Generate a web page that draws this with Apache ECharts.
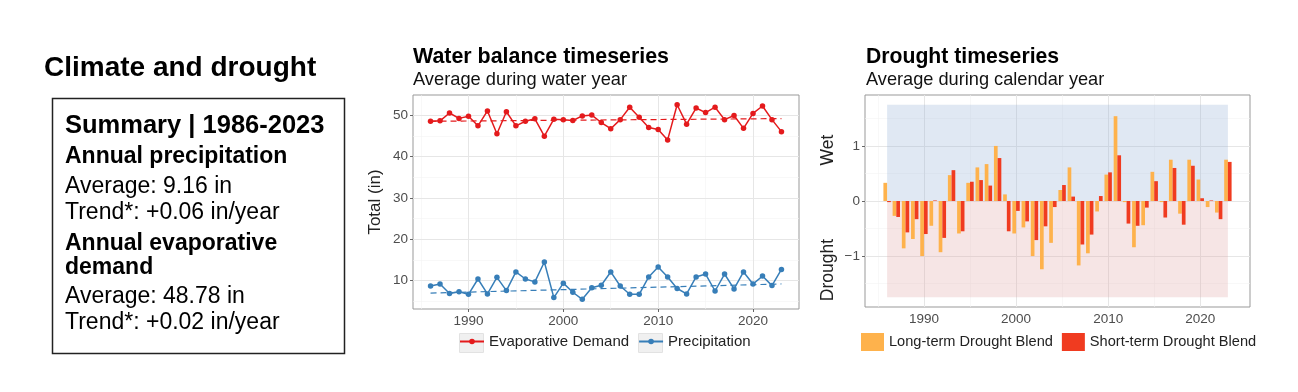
<!DOCTYPE html>
<html>
<head>
<meta charset="utf-8">
<script src="https://cdn.jsdelivr.net/npm/echarts@6/dist/echarts.min.js"></script>
<style>
html,body{margin:0;padding:0;background:#fff;}
#chart{width:1298px;height:392px;}
</style>
</head>
<body>
<div id="chart"></div>
<script>
// ---------- DATA ----------
const years = [1986,1987,1988,1989,1990,1991,1992,1993,1994,1995,1996,1997,1998,1999,2000,2001,2002,2003,2004,2005,2006,2007,2008,2009,2010,2011,2012,2013,2014,2015,2016,2017,2018,2019,2020,2021,2022,2023];
const evapDemand = [48.5,48.6,50.5,49.2,49.7,47.4,51.0,45.5,50.8,47.4,48.5,49.1,44.9,49.0,48.9,48.7,49.8,50.0,48.2,46.7,48.9,51.9,49.5,47.0,46.5,44.0,52.5,47.8,51.7,50.6,51.9,48.9,49.9,46.8,50.4,52.2,48.9,46.0];
const precipitation = [8.7,9.2,6.9,7.3,6.7,10.4,6.8,10.8,7.6,12.1,10.4,9.7,14.5,5.9,9.4,7.2,5.5,8.3,8.9,12.1,8.7,6.7,6.7,10.9,13.3,10.9,8.1,6.8,10.9,11.6,7.5,11.6,8.0,12.1,9.2,11.1,8.8,12.7];
const evapTrend = [[1986,48.5],[2023,49.15]];
const precipTrend = [[1986,7.0],[2023,9.2]];
const longTermBlend = [0.33,-0.27,-0.86,-0.69,-1.0,-0.45,-0.93,0.47,-0.59,0.33,0.61,0.67,1.0,0.12,-0.59,-0.48,-1.0,-1.24,-0.76,0.2,0.61,-1.17,-0.95,-0.19,0.48,1.54,-0.02,-0.84,-0.44,0.53,-0.02,0.75,-0.23,0.75,0.39,-0.11,-0.21,0.75];
const shortTermBlend = [-0.02,-0.29,-0.57,-0.33,-0.6,0.01,-0.67,0.56,-0.55,0.35,0.38,0.28,0.78,-0.55,-0.18,-0.37,-0.71,-0.46,-0.11,0.29,0.08,-0.79,-0.61,0.09,0.52,0.83,-0.41,-0.45,-0.12,0.36,-0.30,0.60,-0.43,0.64,0.05,0.01,-0.33,0.71];
const wetBand = {x0:1986, x1:2023, y0:0, y1:1.75};
const droughtBand = {x0:1986, x1:2023, y0:-1.75, y1:0};
const yearTicks = [1990,2000,2010,2020];
const yearMinor = [1985,1995,2005,2015];
const totalTicks = [10,20,30,40,50];
const totalMinor = [5,15,25,35,45];
const droughtTicks = [-1,0,1];
const droughtMinor = [-1.5,-0.5,0.5,1.5];

// ---------- CHART ----------
const FONT = '"Liberation Sans", Arial, sans-serif';
const chart = echarts.init(document.getElementById('chart'), null, {renderer:'canvas'});
const pair = (xs, ys) => xs.map((x,i)=>[x, ys[i]]);
const minus = v => String(v).replace('-', '\u2212');
const plain = v => String(v);

function gridSeries(xi, yi, xMaj, xMin, yMaj, yMin){
  const maj = {color:'#e6e6e6', width:1, type:'solid'};
  const mnr = {color:'#f3f3f3', width:0.6, type:'solid'};
  const d = [];
  xMin.forEach(v=>d.push({xAxis:v, lineStyle:mnr}));
  yMin.forEach(v=>d.push({yAxis:v, lineStyle:mnr}));
  xMaj.forEach(v=>d.push({xAxis:v, lineStyle:maj}));
  yMaj.forEach(v=>d.push({yAxis:v, lineStyle:maj}));
  return {type:'line', xAxisIndex:xi, yAxisIndex:yi, data:[], z:1, silent:true,
    markLine:{silent:true, z:1, symbol:['none','none'], label:{show:false}, animation:false, data:d}};
}

const axisLbl = {color:'#4d4d4d', fontSize:13.5, fontFamily:FONT};
const tick = {show:true, length:3, lineStyle:{color:'#666'}};
function txt(x, y, s, font, fill){
  return {type:'text', x:x, y:y, style:{text:s, font:font+' '+FONT, fill:fill||'#000', verticalAlign:'middle', align:'left'}};
}

const option = {
  animation:false,
  textStyle:{fontFamily:FONT},
  grid:[
    {left:413, top:95, width:386, height:214, show:true, borderColor:'#999', borderWidth:1, backgroundColor:'transparent'},
    {left:865, top:95, width:385, height:212, show:true, borderColor:'#999', borderWidth:1, backgroundColor:'transparent'}
  ],
  xAxis:[
    {type:'value', gridIndex:0, min:1984.15, max:2024.85, axisLine:{show:false}, splitLine:{show:false},
     axisTick:Object.assign({customValues:yearTicks}, tick), axisLabel:Object.assign({customValues:yearTicks, margin:5, formatter:plain}, axisLbl)},
    {type:'value', gridIndex:1, min:1983.6, max:2025.4, axisLine:{show:false}, splitLine:{show:false},
     axisTick:Object.assign({customValues:yearTicks}, tick), axisLabel:Object.assign({customValues:yearTicks, margin:5, formatter:plain}, axisLbl)}
  ],
  yAxis:[
    {type:'value', gridIndex:0, min:3.15, max:54.85, axisLine:{show:false}, splitLine:{show:false},
     axisTick:Object.assign({customValues:totalTicks}, tick), axisLabel:Object.assign({customValues:totalTicks, margin:5}, axisLbl)},
    {type:'value', gridIndex:1, min:-1.925, max:1.925, axisLine:{show:false}, splitLine:{show:false},
     axisTick:Object.assign({customValues:droughtTicks}, tick), axisLabel:Object.assign({customValues:droughtTicks, margin:5, formatter:minus}, axisLbl)}
  ],
  legend:[
    {data:['Evaporative Demand','Precipitation'], left:459, top:334, itemWidth:24, itemHeight:7, itemGap:9, z:10,
     textStyle:{fontSize:15, color:'#222', fontFamily:FONT}, padding:0},
    {data:['Long-term Drought Blend','Short-term Drought Blend'], left:861, top:333, itemWidth:23, itemHeight:18, itemGap:9, icon:'rect', z:10,
     textStyle:{fontSize:14.6, color:'#222', fontFamily:FONT}, padding:0}
  ],
  series:[
    gridSeries(0,0,yearTicks,yearMinor,totalTicks,totalMinor),
    gridSeries(1,1,yearTicks,yearMinor,droughtTicks,droughtMinor),
    {type:'line', xAxisIndex:1, yAxisIndex:1, data:[], z:2, silent:true,
     markArea:{silent:true, z:2, data:[
       [{xAxis:wetBand.x0, yAxis:wetBand.y0, itemStyle:{color:'rgba(145,172,212,0.28)'}},{xAxis:wetBand.x1, yAxis:wetBand.y1}],
       [{xAxis:droughtBand.x0, yAxis:droughtBand.y0, itemStyle:{color:'rgba(222,160,160,0.28)'}},{xAxis:droughtBand.x1, yAxis:droughtBand.y1}]
     ]}},
    {type:'line', xAxisIndex:0, yAxisIndex:0, data:evapTrend, z:5, symbol:'none', silent:true,
     lineStyle:{color:'#e41a1c', width:1.2, type:[6,4]}},
    {type:'line', xAxisIndex:0, yAxisIndex:0, data:precipTrend, z:5, symbol:'none', silent:true,
     lineStyle:{color:'#377eb8', width:1.2, type:[6,4]}},
    {name:'Evaporative Demand', type:'line', xAxisIndex:0, yAxisIndex:0, data:pair(years, evapDemand), z:8,
     symbol:'circle', symbolSize:5.5, itemStyle:{color:'#e41a1c', borderWidth:0}, lineStyle:{color:'#e41a1c', width:1.5}},
    {name:'Precipitation', type:'line', xAxisIndex:0, yAxisIndex:0, data:pair(years, precipitation), z:8,
     symbol:'circle', symbolSize:5.5, itemStyle:{color:'#377eb8', borderWidth:0}, lineStyle:{color:'#377eb8', width:1.5}},
    {name:'Long-term Drought Blend', type:'bar', xAxisIndex:1, yAxisIndex:1, data:pair(years, longTermBlend), z:8,
     barWidth:3.7, barGap:'0%', itemStyle:{color:'#feb24c'}},
    {name:'Short-term Drought Blend', type:'bar', xAxisIndex:1, yAxisIndex:1, data:pair(years, shortTermBlend), z:8,
     barWidth:3.7, barGap:'0%', itemStyle:{color:'#f03b20'}}
  ],
  graphic:[
    {type:'rect', left:459, top:333, shape:{width:24, height:19}, style:{fill:'#f0f0f0', stroke:'#e2e2e2'}, z:0},
    {type:'rect', left:638, top:333, shape:{width:24, height:19}, style:{fill:'#f0f0f0', stroke:'#e2e2e2'}, z:0},
    txt(44, 68, 'Climate and drought', 'bold 28px'),
    {type:'rect', left:50, top:96, shape:{width:292, height:255}, style:{fill:'none', stroke:'#222', lineWidth:1.5}},
    txt(65, 126, 'Summary | 1986-2023', 'bold 25.5px'),
    txt(65, 157, 'Annual precipitation', 'bold 23px'),
    txt(65, 187, 'Average: 9.16 in', '23px'),
    txt(65, 213, 'Trend*: +0.06 in/year', '23px'),
    txt(65, 244, 'Annual evaporative', 'bold 23px'),
    txt(65, 268, 'demand', 'bold 23px'),
    txt(65, 297, 'Average: 48.78 in', '23px'),
    txt(65, 323, 'Trend*: +0.02 in/year', '23px'),
    txt(413, 57, 'Water balance timeseries', 'bold 21.4px'),
    txt(413, 80, 'Average during water year', '18.3px', '#111'),
    txt(866, 57, 'Drought timeseries', 'bold 21.2px'),
    txt(866, 80, 'Average during calendar year', '18.2px', '#111'),
    {type:'text', x:375, y:202, rotation:Math.PI/2, style:{text:'Total (in)', font:'17px '+FONT, fill:'#222', align:'center', verticalAlign:'middle'}},
    {type:'text', x:828, y:150, rotation:Math.PI/2, style:{text:'Wet', font:'17.5px '+FONT, fill:'#222', align:'center', verticalAlign:'middle'}},
    {type:'text', x:828, y:270, rotation:Math.PI/2, style:{text:'Drought', font:'17.5px '+FONT, fill:'#222', align:'center', verticalAlign:'middle'}}
  ]
};
chart.setOption(option);
</script>
</body>
</html>
